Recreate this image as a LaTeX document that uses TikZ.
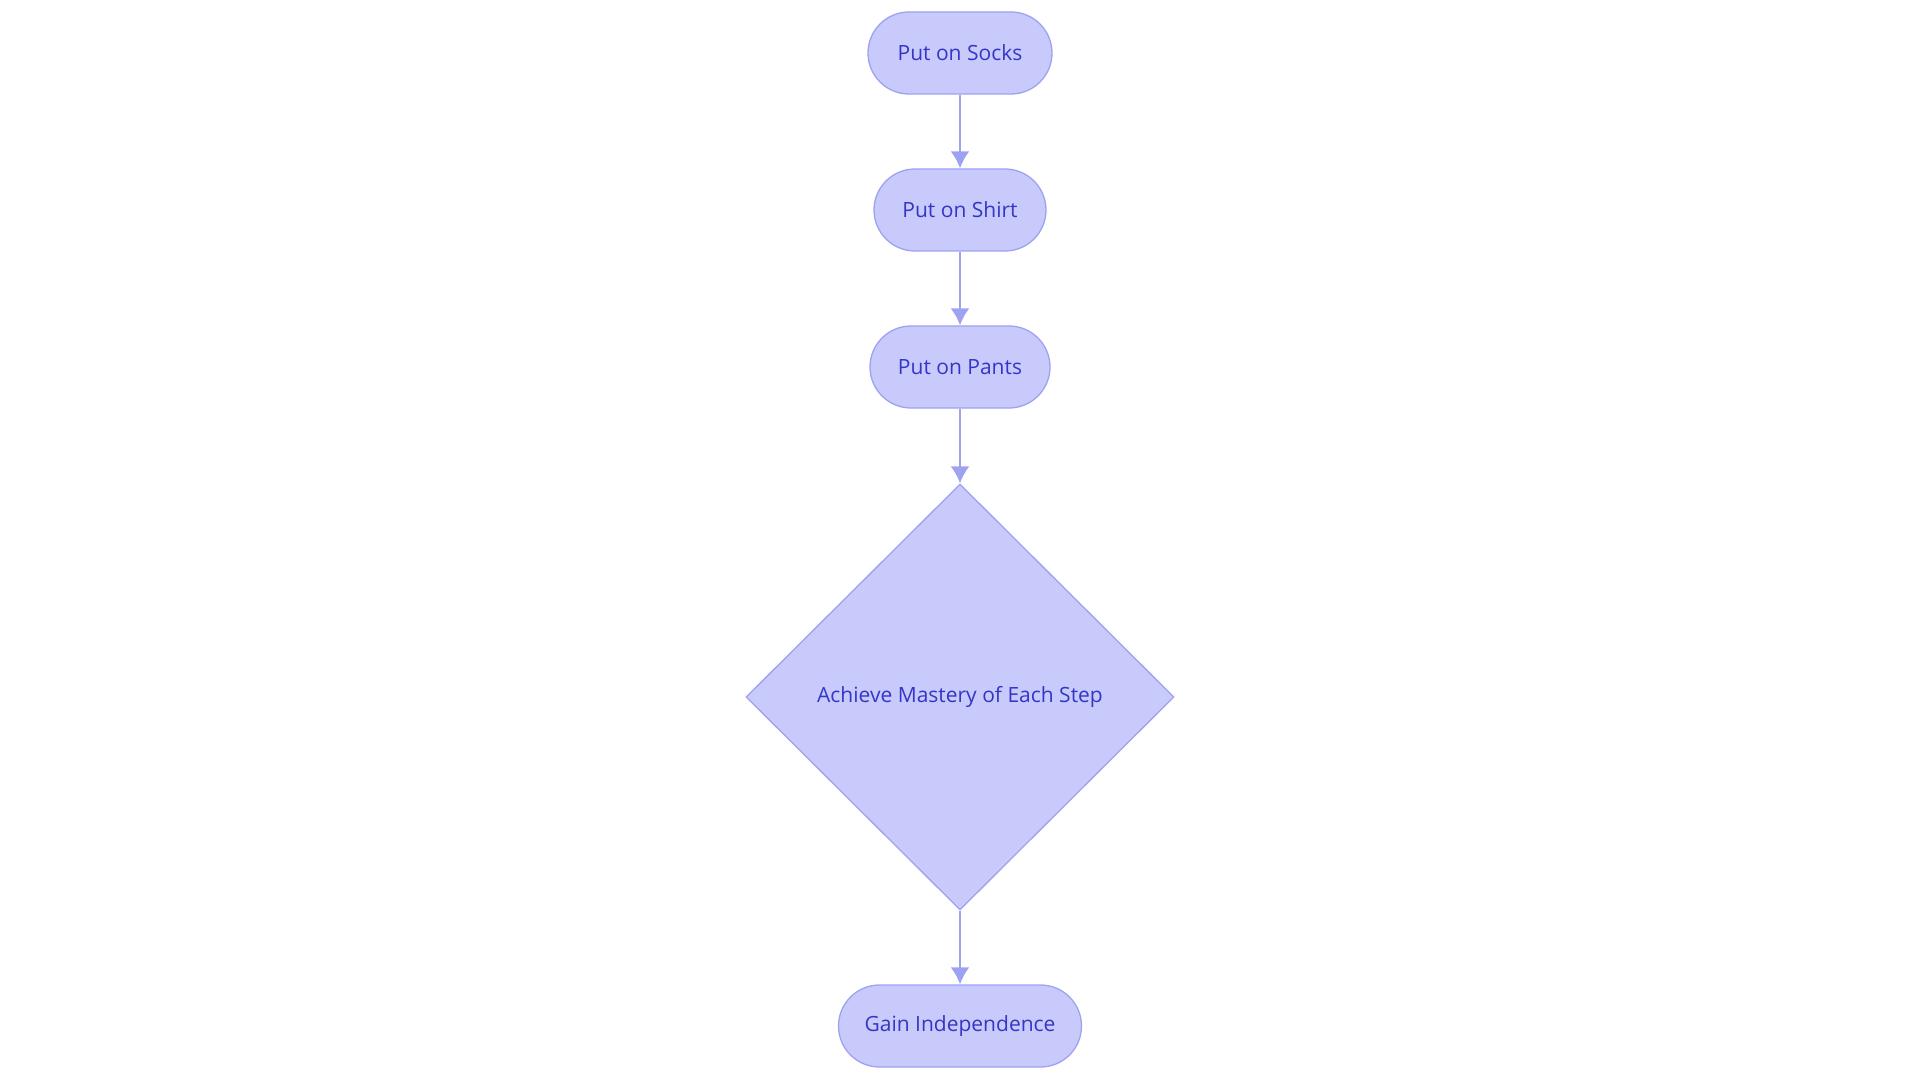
\documentclass[tikz,border=0pt]{standalone}
\usepackage{fontspec}
\setmainfont{Open Sans}
\usepackage{tikz}
\usetikzlibrary{arrows.meta,shapes.geometric}
\definecolor{stepfill}{HTML}{C8CAFB}
\definecolor{stepline}{HTML}{9EA2F0}
\definecolor{steptext}{HTML}{3436C6}
\tikzset{
  pillbox/.style={draw=stepline, fill=stepfill, rounded corners=41pt, line width=1.3pt, minimum height=82pt, inner sep=0pt, text=steptext, font=\fontsize{21}{24}\selectfont},
  decisionbox/.style={diamond, aspect=1, draw=stepline, fill=stepfill, line width=1.3pt, minimum width=428pt, minimum height=426pt, inner sep=0pt, text=steptext, font=\fontsize{21}{24}\selectfont},
  flowarrow/.style={stepline, line width=2.3pt, -{Latex[length=17pt,width=19pt]}}
}
\begin{document}
\begin{tikzpicture}[x=1pt, y=-1pt]
  \useasboundingbox (0,0) rectangle (1920,1083);
  \node[pillbox, minimum width=184pt] (socks) at (960,53) {Put on Socks};
  \node[pillbox, minimum width=172pt] (shirt) at (960,210) {Put on Shirt};
  \node[pillbox, minimum width=180pt] (pants) at (960,367) {Put on Pants};
  \node[decisionbox] (mastery) at (960,697) {Achieve Mastery of Each Step};
  \node[pillbox, minimum width=243pt] (gain) at (960,1026) {Gain Independence};
  \draw[flowarrow] (socks) -- (shirt);
  \draw[flowarrow] (shirt) -- (pants);
  \draw[flowarrow] (pants) -- (mastery);
  \draw[flowarrow] (mastery) -- (gain);
\end{tikzpicture}
\end{document}
